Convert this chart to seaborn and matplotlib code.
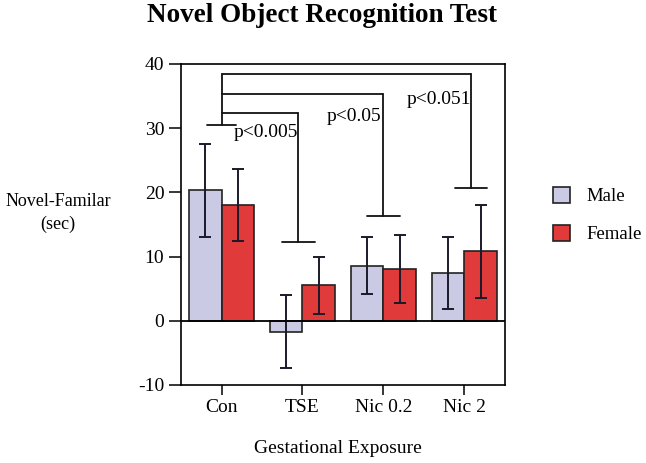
import numpy as np
import pandas as pd
import matplotlib
matplotlib.use("Agg")
import matplotlib.pyplot as plt
import seaborn as sns
from matplotlib.patches import Patch

# values
groups = ["Con", "TSE", "Nic 0.2", "Nic 2"]
male_mean = [20.3, -1.7, 8.6, 7.5]
male_err = [7.2, 5.7, 4.5, 5.6]
female_mean = [18.1, 5.5, 8.0, 10.8]
female_err = [5.6, 4.4, 5.3, 7.2]
sexes = ["Male", "Female"]
colors = ["#cbcae4", "#e03a3a"]

# significance brackets: x of the end bar, height of the horizontal run, cap level, label
bracket_x = [0.95, 2.0, 3.08]
bracket_top = [32.4, 35.4, 38.5]
bracket_cap = [12.3, 16.3, 20.7]
p_labels = ["p<0.005", "p<0.05", "p<0.051"]
p_label_pos = [(0.15, 29.4), (1.30, 31.8), (2.28, 34.4)]
con_cap = 30.5

df = pd.DataFrame({
    "group": groups * 2,
    "sex": ["Male"] * 4 + ["Female"] * 4,
    "value": male_mean + female_mean,
    "err": male_err + female_err,
})

sns.set_style("ticks")
plt.rcParams["font.family"] = ["Liberation Serif", "DejaVu Serif"]
plt.rcParams["axes.unicode_minus"] = False
plt.rcParams["text.color"] = "black"
plt.rcParams["xtick.labelcolor"] = "black"
plt.rcParams["ytick.labelcolor"] = "black"

fig = plt.figure(figsize=(6.46, 4.63), dpi=100)
ax = fig.add_axes([0.2802, 0.1685, 0.5015, 0.6933])

sns.barplot(data=df, x="group", y="value", hue="sex", order=groups, hue_order=sexes,
            palette=colors, saturation=1, errorbar=None, width=0.8, edgecolor="#222222",
            linewidth=1.2, legend=False, ax=ax)

# error bars at the centre of each bar (patches come hue by hue)
errs = male_err + female_err
vals = male_mean + female_mean
for bar, v, e in zip(ax.patches, vals, errs):
    cx = bar.get_x() + bar.get_width() / 2
    ax.errorbar(cx, v, yerr=e, fmt="none", ecolor="#1a1a2a", elinewidth=1.4,
                capsize=4, capthick=1.4, zorder=3)

ax.axhline(0, color="black", lw=1.3, zorder=4)

# brackets
lc = "#111111"
lw = 1.3
ax.plot([0, 0], [con_cap, bracket_top[-1]], color=lc, lw=lw)
ax.plot([-0.18, 0.18], [con_cap, con_cap], color=lc, lw=lw)
for bx, top, cap in zip(bracket_x, bracket_top, bracket_cap):
    ax.plot([0, bx], [top, top], color=lc, lw=lw)
    ax.plot([bx, bx], [top, cap], color=lc, lw=lw)
    ax.plot([bx - 0.2, bx + 0.2], [cap, cap], color=lc, lw=lw)
for txt, (tx, ty) in zip(p_labels, p_label_pos):
    ax.text(tx, ty, txt, fontsize=14, va="center", ha="left")

ax.set_xlim(-0.5, 3.5)
ax.set_ylim(-10, 40)
ax.set_yticks([-10, 0, 10, 20, 30, 40])
ax.tick_params(axis="both", labelsize=14, width=1.1, color="black", direction="out", pad=3)
ax.tick_params(axis="y", length=9)
ax.tick_params(axis="x", length=7)
for s in ax.spines.values():
    s.set_visible(True)
    s.set_color("black")
    s.set_linewidth(1.2)

ax.set_xlabel("")
ax.set_ylabel("")
fig.text(0.523, 0.032, "Gestational Exposure", fontsize=14, ha="center", va="center")
fig.text(0.09, 0.54, "Novel-Familar\n(sec)", fontsize=13, ha="center", va="center",
         linespacing=1.45)
fig.text(0.498, 0.966, "Novel Object Recognition Test", fontsize=19.5, fontweight="bold",
         ha="center", va="center")

handles = [Patch(facecolor=c, edgecolor="#222222", linewidth=1.2) for c in colors]
fig.legend(handles, sexes, loc="upper left", bbox_to_anchor=(553 / 646, 1 - 187 / 463),
           frameon=False, fontsize=13.5, handlelength=0.9, handleheight=0.9,
           labelspacing=1.05, handletextpad=0.9, borderpad=0, borderaxespad=0)

fig.savefig("out.png", dpi=100)
